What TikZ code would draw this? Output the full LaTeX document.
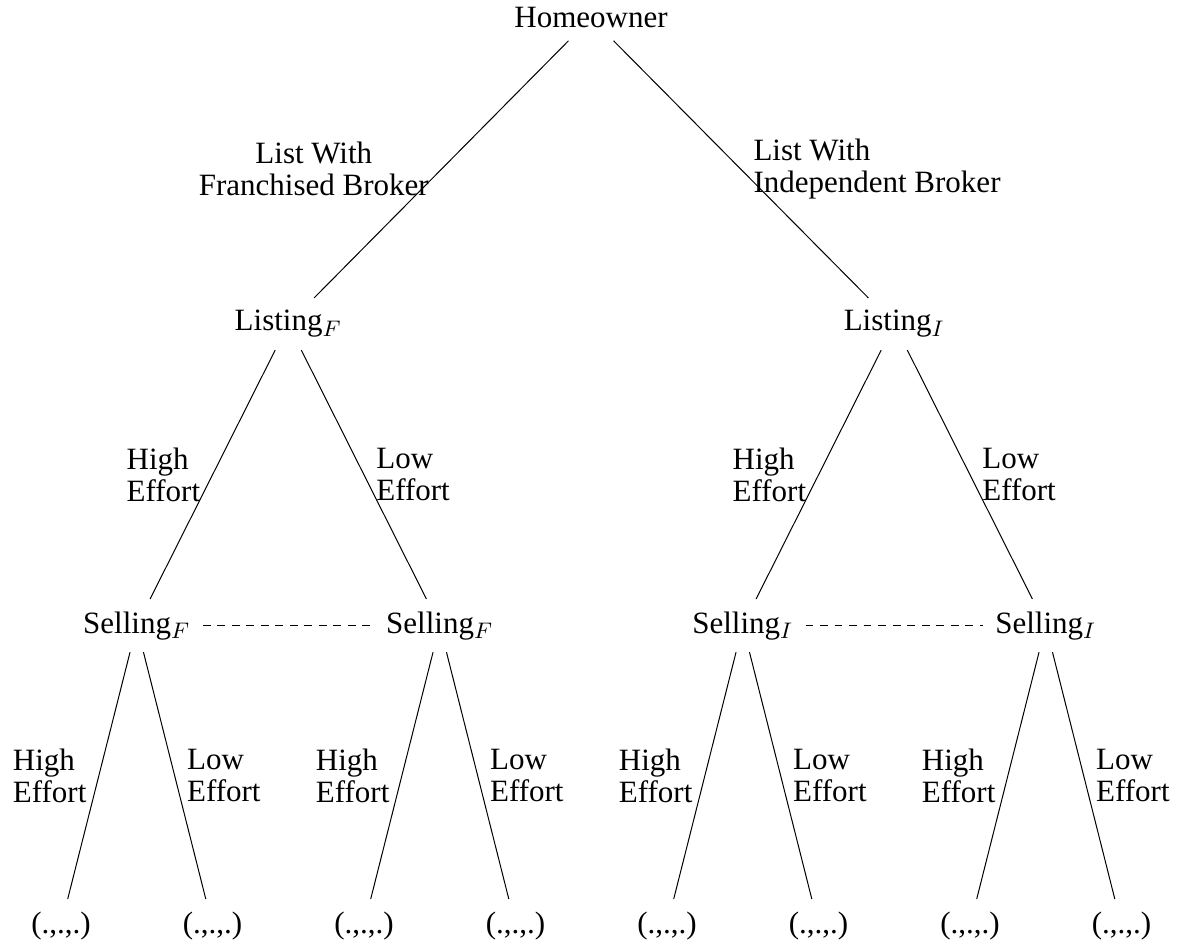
\documentclass[tikz,border=0pt]{standalone}
\usepackage{fontspec}
\setmainfont{Liberation Serif}
\begin{document}
\begin{tikzpicture}[x=0.4pt,y=-0.4pt,
  tn/.style={inner sep=4.8pt, anchor=base, font=\fontsize{12.4}{12.8}\selectfont},
  lbl/.style={inner sep=4.8pt, font=\fontsize{12.4}{12.8}\selectfont},
  edge/.style={line width=0.4pt},
  info/.style={line width=0.4pt, dash pattern=on 3.1pt off 2.7pt}]
\useasboundingbox (0,0) rectangle (1177,944);
% nodes
\node[tn] (H) at (591,28) {Homeowner};
\node[tn] (LF) at (288.25,331) {Listing$_F$};
\node[tn] (LI) at (894.25,331) {Listing$_I$};
\node[tn] (SF1) at (136.75,633) {Selling$_F$};
\node[tn] (SF2) at (439.75,633) {Selling$_F$};
\node[tn] (SI1) at (742.75,633) {Selling$_I$};
\node[tn] (SI2) at (1045.75,633) {Selling$_I$};
\node[tn] (P1) at (61,933) {(.,.,.)};
\node[tn] (P2) at (212.5,933) {(.,.,.)};
\node[tn] (P3) at (364,933) {(.,.,.)};
\node[tn] (P4) at (515.5,933) {(.,.,.)};
\node[tn] (P5) at (667,933) {(.,.,.)};
\node[tn] (P6) at (818.5,933) {(.,.,.)};
\node[tn] (P7) at (970,933) {(.,.,.)};
\node[tn] (P8) at (1121.5,933) {(.,.,.)};
% level 1
\draw[edge] (H) -- node[lbl, anchor=east, align=center] {List With\\Franchised Broker} (LF);
\draw[edge] (H) -- node[lbl, anchor=west, align=left] {List With\\Independent Broker} (LI);
% level 2
\draw[edge] (LF) -- node[lbl, anchor=east, align=left] {High\\Effort} (SF1);
\draw[edge] (LF) -- node[lbl, anchor=west, align=left] {Low\\Effort} (SF2);
\draw[edge] (LI) -- node[lbl, anchor=east, align=left] {High\\Effort} (SI1);
\draw[edge] (LI) -- node[lbl, anchor=west, align=left] {Low\\Effort} (SI2);
% level 3
\draw[edge] (SF1) -- node[lbl, anchor=east, align=left] {High\\Effort} (P1);
\draw[edge] (SF1) -- node[lbl, anchor=west, align=left] {Low\\Effort} (P2);
\draw[edge] (SF2) -- node[lbl, anchor=east, align=left] {High\\Effort} (P3);
\draw[edge] (SF2) -- node[lbl, anchor=west, align=left] {Low\\Effort} (P4);
\draw[edge] (SI1) -- node[lbl, anchor=east, align=left] {High\\Effort} (P5);
\draw[edge] (SI1) -- node[lbl, anchor=west, align=left] {Low\\Effort} (P6);
\draw[edge] (SI2) -- node[lbl, anchor=east, align=left] {High\\Effort} (P7);
\draw[edge] (SI2) -- node[lbl, anchor=west, align=left] {Low\\Effort} (P8);
% information sets
\draw[info] (SF1) -- (SF2);
\draw[info] (SI1) -- (SI2);
\end{tikzpicture}
\end{document}
